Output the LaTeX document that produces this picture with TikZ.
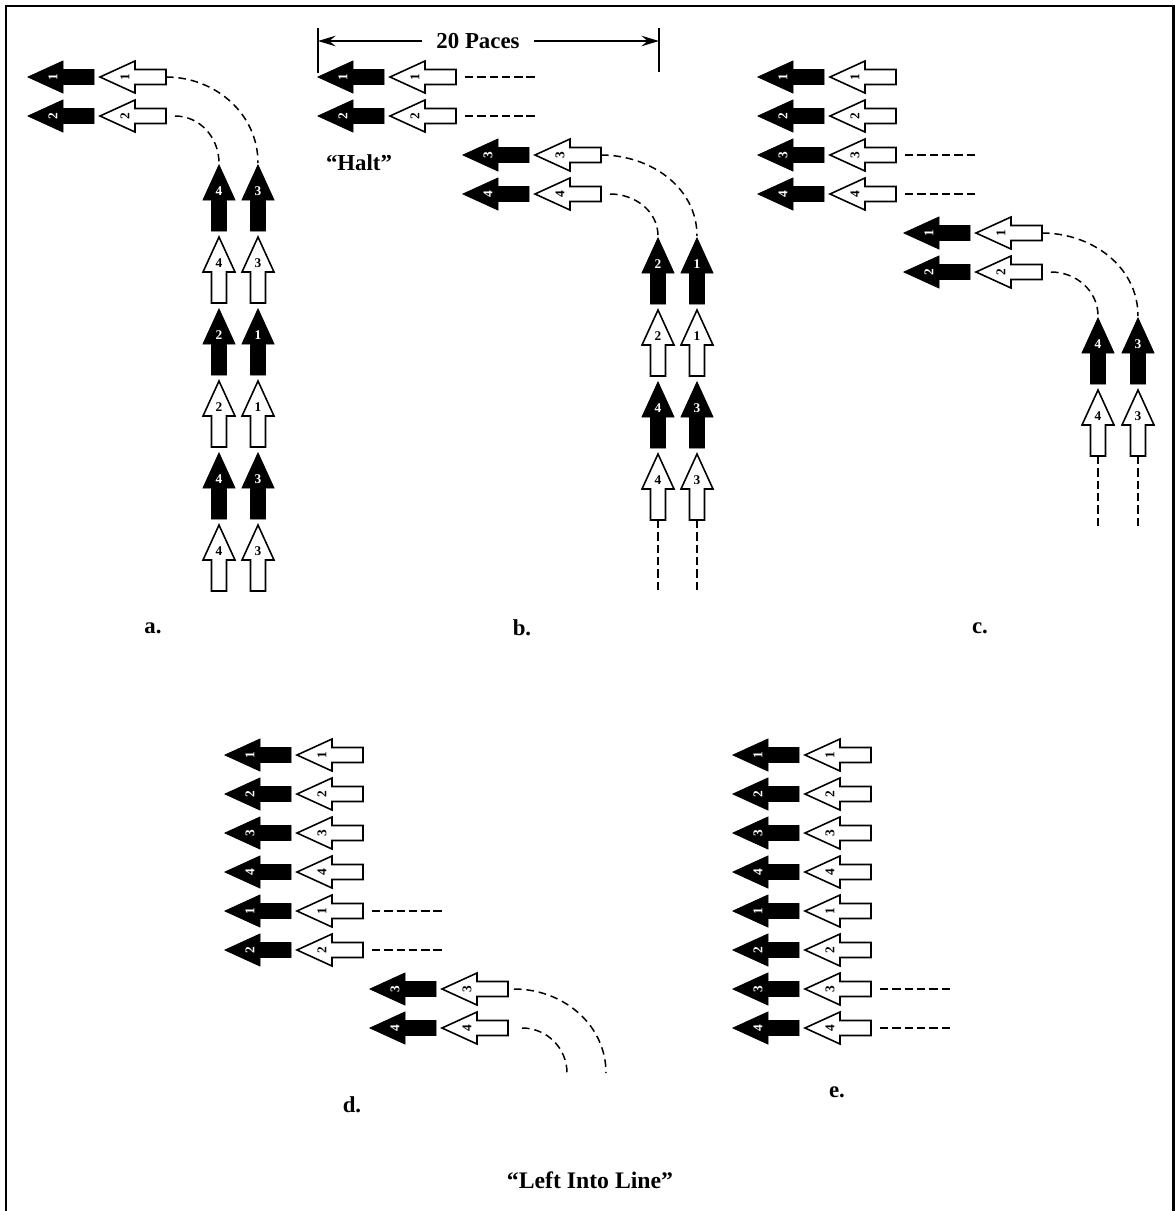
\documentclass[tikz,border=0pt]{standalone}
\usepackage{fontspec}
\setmainfont{Liberation Serif}
\usetikzlibrary{arrows.meta,calc}
\tikzset{
  solidarr/.style={fill=black,draw=black,line width=0.5pt},
  openarr/.style={fill=white,draw=black,line width=0.9pt},
  solidnum/.style={text=white},
  opennum/.style={text=black},
  numtxt/.style={font=\fontsize{7.6}{8}\selectfont\bfseries, inner sep=0pt},
  lbl/.style={font=\fontsize{13}{15}\selectfont\bfseries},
  dline/.style={line width=1.2pt,dash pattern=on 4.8pt off 2.2pt},
  dcurve/.style={line width=0.85pt,dash pattern=on 4.3pt off 2.8pt},
  pics/larr/.style 2 args={code={
    \path[#1arr] (0,0) -- (35,-16) -- (35,-7.5) -- (66,-7.5) -- (66,7.5) -- (35,7.5) -- (35,16) -- cycle;
    \node[numtxt,#1num,rotate=90] (-n) at (25,0) {#2};
    \coordinate (-tip) at (0,0);
    \coordinate (-tail) at (66,0);
  }},
  pics/uarr/.style 2 args={code={
    \path[#1arr] (0,0) -- (16,35) -- (7.5,35) -- (7.5,66) -- (-7.5,66) -- (-7.5,35) -- (-16,35) -- cycle;
    \node[numtxt,#1num] (-n) at (0,26) {#2};
    \coordinate (-tip) at (0,0);
    \coordinate (-tail) at (0,66);
  }},
}
\begin{document}
\begin{tikzpicture}[x=0.02cm,y=-0.02cm]
\useasboundingbox (0,0) rectangle (1175,1211);
% frame
\draw[line width=1.7pt] (6,1220) -- (6,6) -- (1173,6) -- (1173,1220);

% ---------- panel a ----------
\foreach \n/\y in {1/77,2/116}{
  \pic (aB\n) at (28,\y) {larr={solid}{\n}};
  \pic (aW\n) at (100,\y) {larr={open}{\n}};
}
\foreach \k/\y/\s/\l/\r in {1/165/solid/4/3,2/237/open/4/3,3/309/solid/2/1,4/381/open/2/1,5/453/solid/4/3,6/525/open/4/3}{
  \pic (aL\k) at (219,\y) {uarr={\s}{\l}};
  \pic (aR\k) at (258,\y) {uarr={\s}{\r}};
}
\draw[dcurve] (aW1-tail) to[out=0,in=90] ($(aR1-tip)+(0,-2)$);
\draw[dcurve] ($(aW2-tail)+(9,0)$) to[out=0,in=90] ($(aL1-tip)+(0,-2)$);
\node[lbl] (la) at (153,628) {a.};

% ---------- panel b ----------
\coordinate (tl1) at (318,28); \coordinate (tl2) at (318,73);
\coordinate (tr1) at (659,28); \coordinate (tr2) at (659,72);
\draw[line width=1.1pt] (tl1) -- (tl2);
\draw[line width=1.1pt] (tr1) -- (tr2);
\node[lbl,inner xsep=8pt] (paces) at (478,41) {20 Paces};
\coordinate (pl) at (318,41); \coordinate (pr) at (659,41);
\draw[line width=0.9pt,-{Stealth[length=10pt,width=6pt,inset=3.5pt]}] (paces.west) -- (pl);
\draw[line width=0.9pt,-{Stealth[length=10pt,width=6pt,inset=3.5pt]}] (paces.east) -- (pr);
\foreach \n/\y in {1/77,2/116}{
  \pic (bB\n) at (318,\y) {larr={solid}{\n}};
  \pic (bW\n) at (390,\y) {larr={open}{\n}};
  \draw[dline] ($(bW\n-tail)+(9,0)$) -- ++(72,0);
}
\foreach \n/\y in {3/155,4/194}{
  \pic (bB\n) at (463,\y) {larr={solid}{\n}};
  \pic (bW\n) at (535,\y) {larr={open}{\n}};
}
\node[lbl] (halt) at (359,163) {“Halt”};
\foreach \k/\y/\s/\l/\r in {1/238/solid/2/1,2/310/open/2/1,3/382/solid/4/3,4/454/open/4/3}{
  \pic (bL\k) at (658,\y) {uarr={\s}{\l}};
  \pic (bR\k) at (697,\y) {uarr={\s}{\r}};
}
\draw[dline] (bL4-tail) -- ++(0,72);
\draw[dline] (bR4-tail) -- ++(0,72);
\draw[dcurve] (bW3-tail) to[out=0,in=90] ($(bR1-tip)+(0,-2)$);
\draw[dcurve] ($(bW4-tail)+(9,0)$) to[out=0,in=90] ($(bL1-tip)+(0,-2)$);
\node[lbl] (lb) at (522,628) {b.};

% ---------- panel c ----------
\foreach \n/\y in {1/77,2/116,3/155,4/194}{
  \pic (cB\n) at (758,\y) {larr={solid}{\n}};
  \pic (cW\n) at (830,\y) {larr={open}{\n}};
}
\draw[dline] ($(cW3-tail)+(9,0)$) -- ++(72,0);
\draw[dline] ($(cW4-tail)+(9,0)$) -- ++(72,0);
\foreach \n/\y in {1/233,2/272}{
  \pic (cC\n) at (904,\y) {larr={solid}{\n}};
  \pic (cD\n) at (976,\y) {larr={open}{\n}};
}
\foreach \k/\y/\s/\l/\r in {1/318/solid/4/3,2/390/open/4/3}{
  \pic (cL\k) at (1098,\y) {uarr={\s}{\l}};
  \pic (cR\k) at (1138,\y) {uarr={\s}{\r}};
}
\draw[dline] (cL2-tail) -- ++(0,72);
\draw[dline] (cR2-tail) -- ++(0,72);
\draw[dcurve] (cD1-tail) to[out=0,in=90] ($(cR1-tip)+(0,-2)$);
\draw[dcurve] ($(cD2-tail)+(9,0)$) to[out=0,in=90] ($(cL1-tip)+(0,-2)$);
\node[lbl] (lc) at (980,628) {c.};

% ---------- panel d ----------
\foreach \k/\n/\y in {1/1/755,2/2/794,3/3/833,4/4/872,5/1/911,6/2/950}{
  \pic (dB\k) at (225,\y) {larr={solid}{\n}};
  \pic (dW\k) at (297,\y) {larr={open}{\n}};
}
\draw[dline] ($(dW5-tail)+(9,0)$) -- ++(72,0);
\draw[dline] ($(dW6-tail)+(9,0)$) -- ++(72,0);
\foreach \k/\n/\y in {7/3/989,8/4/1028}{
  \pic (dB\k) at (370,\y) {larr={solid}{\n}};
  \pic (dW\k) at (442,\y) {larr={open}{\n}};
}
\coordinate (dE7) at (606,1073);
\coordinate (dE8) at (567,1073);
\draw[dcurve] ($(dW7-tail)+(6,0)$) to[out=0,in=90] (dE7);
\draw[dcurve] ($(dW8-tail)+(14,0)$) to[out=0,in=90] (dE8);
\node[lbl] (ld) at (352,1105) {d.};

% ---------- panel e ----------
\foreach \k/\n/\y in {1/1/755,2/2/794,3/3/833,4/4/872,5/1/911,6/2/950,7/3/989,8/4/1028}{
  \pic (eB\k) at (733,\y) {larr={solid}{\n}};
  \pic (eW\k) at (805,\y) {larr={open}{\n}};
}
\draw[dline] ($(eW7-tail)+(9,0)$) -- ++(72,0);
\draw[dline] ($(eW8-tail)+(9,0)$) -- ++(72,0);
\node[lbl] (le) at (837,1092) {e.};

\node[lbl,font=\fontsize{13.5}{16}\selectfont\bfseries] (title) at (590,1180) {“Left Into Line”};
\end{tikzpicture}
\end{document}
